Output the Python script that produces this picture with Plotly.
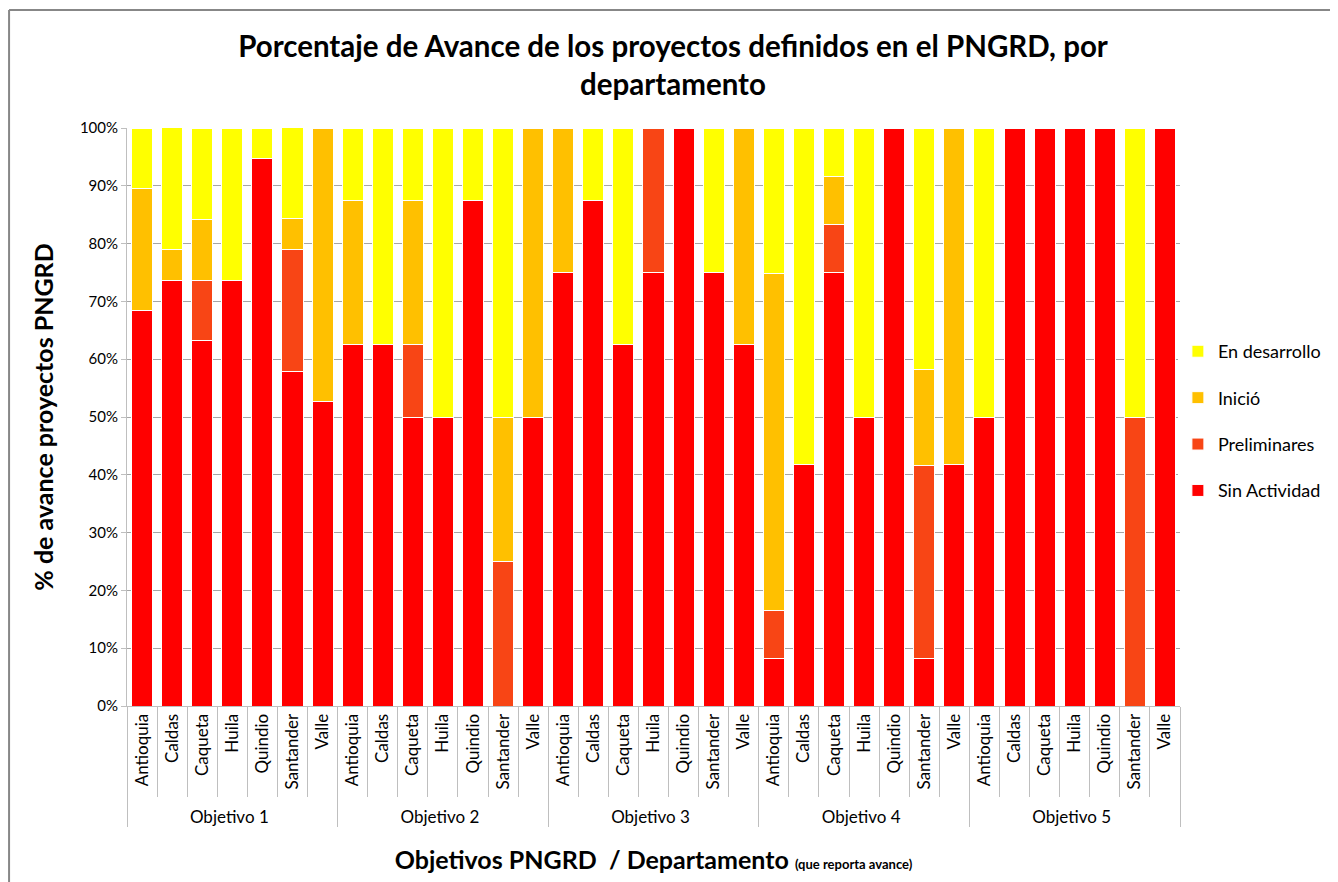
import plotly.graph_objects as go

# Objetivo por barra (7 departamentos por objetivo)
objetivos = ["Objetivo 1"] * 7 + ["Objetivo 2"] * 7 + ["Objetivo 3"] * 7 + ["Objetivo 4"] * 7 + ["Objetivo 5"] * 7
deptos = ["Antioquia", "Caldas", "Caqueta", "Huila", "Quindio", "Santander", "Valle"] * 5

# Porcentajes (%)
sin_actividad = [68.4, 73.7, 63.2, 73.7, 94.7, 57.9, 52.6,
                 62.5, 62.5, 50.0, 50.0, 87.5, 0.0, 50.0,
                 75.0, 87.5, 62.5, 75.0, 100.0, 75.0, 62.5,
                 8.3, 41.7, 75.0, 50.0, 100.0, 8.3, 41.7,
                 50.0, 100.0, 100.0, 100.0, 100.0, 0.0, 100.0]
preliminares = [0.0, 0.0, 10.5, 0.0, 0.0, 21.1, 0.0,
                0.0, 0.0, 12.5, 0.0, 0.0, 25.0, 0.0,
                0.0, 0.0, 0.0, 25.0, 0.0, 0.0, 0.0,
                8.3, 0.0, 8.3, 0.0, 0.0, 33.3, 0.0,
                0.0, 0.0, 0.0, 0.0, 0.0, 50.0, 0.0]
inicio = [21.1, 5.3, 10.5, 0.0, 0.0, 5.3, 47.4,
          25.0, 0.0, 25.0, 0.0, 0.0, 25.0, 50.0,
          25.0, 0.0, 0.0, 0.0, 0.0, 0.0, 37.5,
          58.3, 0.0, 8.3, 0.0, 0.0, 16.7, 58.3,
          0.0, 0.0, 0.0, 0.0, 0.0, 0.0, 0.0]
en_desarrollo = [10.5, 21.1, 15.8, 26.3, 5.3, 15.8, 0.0,
                 12.5, 37.5, 12.5, 50.0, 12.5, 50.0, 0.0,
                 0.0, 12.5, 37.5, 0.0, 0.0, 25.0, 0.0,
                 25.0, 58.3, 8.3, 50.0, 0.0, 41.7, 0.0,
                 50.0, 0.0, 0.0, 0.0, 0.0, 50.0, 0.0]

series = [
    ("Sin Actividad", sin_actividad, "#FF0000"),
    ("Preliminares", preliminares, "#F84515"),
    ("Inició", inicio, "#FFC000"),
    ("En desarrollo", en_desarrollo, "#FFFF00"),
]

FONT = "Lato, Open Sans, sans-serif"

fig = go.Figure()
for i, (name, values, color) in enumerate(series):
    fig.add_trace(go.Bar(
        x=[objetivos, deptos],
        y=values,
        name=name,
        legendgroup=name,
        legendrank=1000 - i,  # legend top-to-bottom: En desarrollo ... Sin Actividad
        marker=dict(color=color, line=dict(color="white", width=1)),
    ))

# the page body has an 8px margin, so the figure is a bit smaller than the window
fig.update_layout(
    barmode="stack",
    bargap=0.3,
    width=1330,
    height=874,
    plot_bgcolor="white",
    paper_bgcolor="white",
    font=dict(family=FONT, size=15, color="black"),
    margin=dict(l=119, r=158, t=120, b=176),
    title=dict(
        text="<b>Porcentaje de Avance de los proyectos definidos en el PNGRD, por<br>departamento</b>",
        x=0.5,
        xanchor="center",
        y=0.944,
        yanchor="top",
        font=dict(size=29.5, family=FONT),
    ),
    legend=dict(
        x=0.998,
        y=0.493,
        xanchor="left",
        yanchor="middle",
        traceorder="grouped",
        tracegroupgap=20,
        font=dict(size=18),
    ),
    shapes=[
        # chart frame (top and left edges visible in the reference)
        dict(type="line", xref="paper", yref="paper", x0=-0.112, x1=1.2,
             y0=1.204, y1=1.204, line=dict(color="#878787", width=2)),
        dict(type="line", xref="paper", yref="paper", x0=-0.112, x1=-0.112,
             y0=1.204, y1=-0.4, line=dict(color="#878787", width=2)),
    ],
)

fig.update_yaxes(
    range=[0, 100],
    dtick=10,
    ticksuffix="%",
    showgrid=True,
    gridcolor="#A6A6A6",
    gridwidth=1,
    showline=True,
    linecolor="#BFBFBF",
    ticks="outside",
    tickcolor="#BFBFBF",
    ticklen=5,
    tickfont=dict(size=15),
    title=dict(text="<b>% de avance proyectos PNGRD</b>", font=dict(size=25), standoff=19),
)

fig.update_xaxes(
    type="multicategory",
    tickangle=-90,
    showline=True,
    linecolor="#BFBFBF",
    ticks="outside",
    tickcolor="#BFBFBF",
    ticklen=90,
    showdividers=True,
    dividercolor="#BFBFBF",
    dividerwidth=1,
    tickfont=dict(size=17),
    title=dict(
        text="<b>Objetivos PNGRD  / Departamento <span style='font-size:13px'>(que reporta avance)</span></b>",
        font=dict(size=25),
        standoff=25,
    ),
)

fig.write_html("out.html")
